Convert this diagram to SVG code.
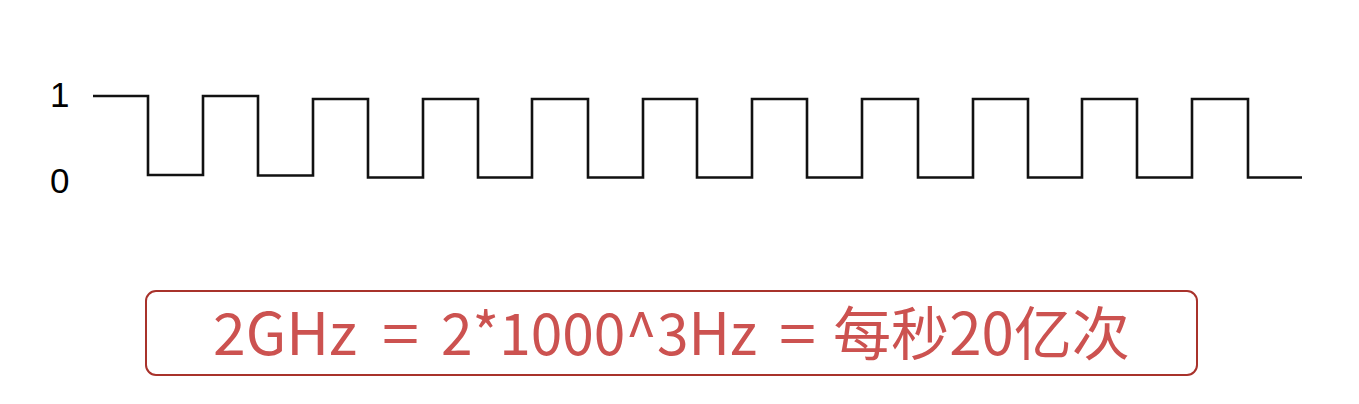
<svg xmlns="http://www.w3.org/2000/svg" width="1359" height="404" viewBox="0 0 1359 404">
<style>
.lbl{font-family:"Liberation Sans","Noto Sans",sans-serif;font-size:35px;fill:#000}
.wave{fill:none;stroke:#111;stroke-width:2.6;stroke-linejoin:miter}
.box{fill:#fff;stroke:#a8322b;stroke-width:2}
.eq{font-family:"Noto Sans CJK SC","Noto Sans",sans-serif;font-size:58px;font-weight:400;fill:#cc5250}
</style>
<rect width="1359" height="404" fill="#fff"/>
<g id="labels">
<text class="lbl" x="50" y="107">1</text>
<text class="lbl" x="50" y="193">0</text>
</g>
<g id="waveform">
<path class="wave" d="M93,96 H148 V175 H203 V96 H258 V175.5 H313 V99 H368 V177.5 H423 V99 H478 V177.5 H532 V99 H588 V177.5 H643 V99 H697 V177.5 H752 V99 H807 V177.5 H862 V99 H918 V177.5 H973 V99 H1028 V177.5 H1082 V99 H1137 V177.5 H1192 V99 H1248 V177.5 H1302"/>
</g>
<g id="formula">
<rect class="box" x="146" y="291" width="1051" height="84" rx="10"/>
<text class="eq" y="355"><tspan x="213" textLength="144" lengthAdjust="spacingAndGlyphs">2GHz</tspan><tspan x="382" textLength="37" lengthAdjust="spacingAndGlyphs">=</tspan><tspan x="441" textLength="316" lengthAdjust="spacingAndGlyphs">2*1000^3Hz</tspan><tspan x="779" textLength="37" lengthAdjust="spacingAndGlyphs">=</tspan><tspan x="833" textLength="297" lengthAdjust="spacingAndGlyphs">每秒20亿次</tspan></text>
</g>
</svg>
